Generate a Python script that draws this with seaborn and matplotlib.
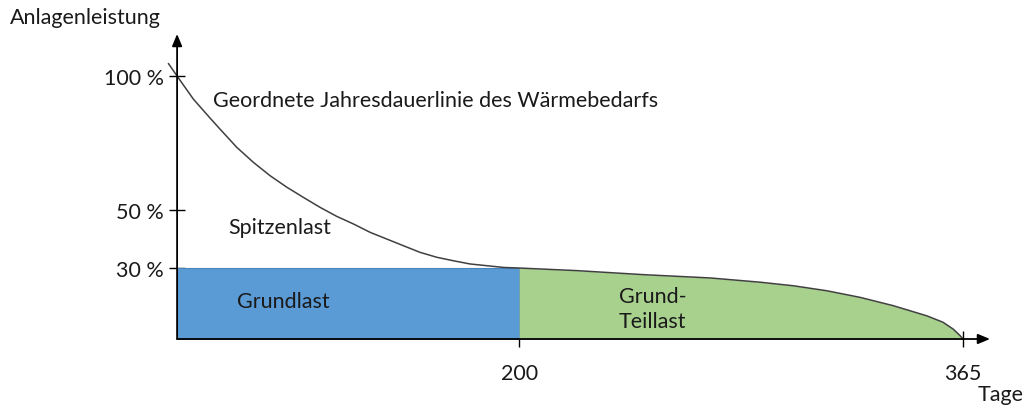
import numpy as np
import pandas as pd
import seaborn as sns
import matplotlib.pyplot as plt

# ordered annual load duration curve (days, percent of plant capacity)
days = [-5.1, 0, 9.5, 19.3, 25.1, 34.9, 44.6, 54.4, 64.2, 73.9, 83.6, 93.4, 103.1, 112.9,
        122.6, 132.3, 142.1, 151.9, 161.6, 171.3, 181.1, 190.8, 200,
        221.4, 246.1, 271.0, 289.6, 301.9, 314.3, 326.7, 339.0, 351.5, 357.5, 361.3, 363.9, 365]
load = [104.7, 100, 91.4, 84.3, 80.2, 73.4, 67.8, 62.8, 58.5, 54.7, 51.0, 47.8, 45.2, 42.3,
        40.0, 37.7, 35.4, 33.7, 32.5, 31.4, 30.8, 30.2, 30,
        28.9, 27.2, 25.8, 24.0, 22.5, 20.4, 17.6, 14.1, 9.8, 7.1, 4.2, 1.4, 0]

base_days = [0, 200]
base_level = [30, 30]

y_ticks = [100, 50, 30]
y_tick_labels = ["100 %", "50 %", "30 %"]
x_ticks = [200, 365]
x_tick_labels = ["200", "365"]

BLUE = "#5b9bd5"
GREEN = "#a9d18e"
LINE = "#404040"


# schematic drawing: axes are piecewise linear, not to scale
def fwd_x(d):
    d = np.asarray(d, float)
    return np.where(d <= 200, d * 342 / 200, 342 + (d - 200) * 444 / 165)


def inv_x(p):
    p = np.asarray(p, float)
    return np.where(p <= 342, p * 200 / 342, 200 + (p - 342) * 165 / 444)


KV = [0, 30, 50, 100]
KP = [0, 71, 129, 263]


def fwd_y(v):
    v = np.asarray(v, float)
    out = np.interp(v, KV, KP)
    out = np.where(v > 100, 263 + (v - 100) * 134 / 50, out)
    return np.where(v < 0, v * 71 / 30, out)


def inv_y(p):
    p = np.asarray(p, float)
    out = np.interp(p, KP, KV)
    out = np.where(p > 263, 100 + (p - 263) * 50 / 134, out)
    return np.where(p < 0, p * 30 / 71, out)


sns.set_theme(style="white")
plt.rcParams["font.family"] = ["Lato", "DejaVu Sans"]
FS = 15.5

W, H = 1025, 410
fig = plt.figure(figsize=(W / 100, H / 100), dpi=100)
ax = fig.add_axes([160 / W, 1 - 340 / H, (990 - 160) / W, (340 - 35) / H])
ax.set_xscale("function", functions=(fwd_x, inv_x))
ax.set_yscale("function", functions=(fwd_y, inv_y))
ax.set_xlim(-10, 375)
ax.set_ylim(0, 115.7)
ax.spines["left"].set_position(("data", 0))
ax.spines["bottom"].set_position(("data", 0))
for s in ax.spines.values():
    s.set_visible(False)

df = pd.DataFrame({"Tage": days, "Last": load})
tail = df[df["Tage"] >= base_days[1]]

ax.fill_between(base_days, [0, 0], base_level, color=BLUE, lw=0.8, edgecolor="#4a86bd", zorder=1)
ax.fill_between(tail["Tage"], 0, tail["Last"], color=GREEN, lw=0, zorder=1)
sns.lineplot(data=df, x="Tage", y="Last", color=LINE, lw=1.1, ax=ax, zorder=3,
             clip_on=False, sort=False)

# axes with arrow heads
arrow = dict(arrowstyle="-|>,head_length=0.6,head_width=0.25", color="black", lw=1.3,
             shrinkA=0, shrinkB=0)
ax.annotate("", xy=(0, 115.7), xytext=(0, 0), arrowprops=arrow, annotation_clip=False)
ax.annotate("", xy=(375, 0), xytext=(0, 0), arrowprops=arrow, annotation_clip=False)

ax.set_yticks(y_ticks)
ax.set_yticklabels(y_tick_labels)
ax.set_xticks(x_ticks)
ax.set_xticklabels(x_tick_labels)
ax.tick_params(axis="both", direction="inout", length=11, width=1, color="black",
               labelsize=FS, labelcolor="#1a1a1a", left=True, bottom=True)
ax.tick_params(axis="y", pad=4)
ax.tick_params(axis="x", pad=12)
ax.set_xlabel("")
ax.set_ylabel("")

txt = dict(fontsize=FS, color="#1a1a1a", va="center", ha="left")
ax.text(21, 91, "Geordnete Jahresdauerlinie des Wärmebedarfs", **txt)
ax.text(30, 44, "Spitzenlast", **txt)
ax.text(35, 16, "Grundlast", **txt)
ax.text(237, 13, "Grund-\nTeillast", linespacing=1.3, **txt)

fig.text(10 / W, 1 - 18 / H, "Anlagenleistung", fontsize=FS, color="#1a1a1a", va="center")
fig.text(978 / W, 1 - 395 / H, "Tage", fontsize=FS, color="#1a1a1a", va="center")

fig.savefig("out.png", dpi=100)
